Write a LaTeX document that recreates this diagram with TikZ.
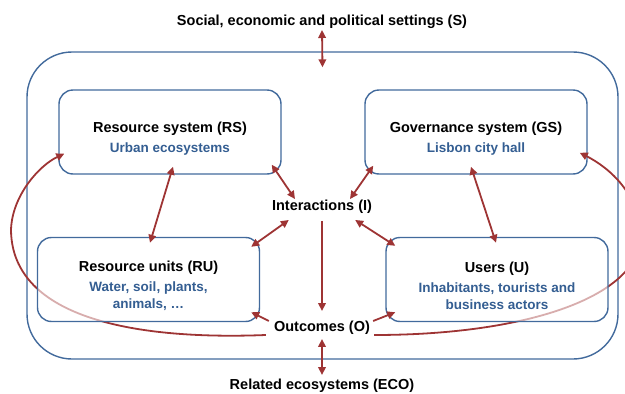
\documentclass[tikz,border=0pt]{standalone}
\usepackage{fontspec}
\setmainfont{Liberation Sans}
\usetikzlibrary{arrows.meta}
\definecolor{sesblue}{RGB}{66,106,156}
\definecolor{sestext}{RGB}{52,94,146}
\definecolor{sesred}{RGB}{158,52,52}

\newcommand{\boxtitle}[1]{{\fontsize{14.5}{17}\selectfont\color{black}\rule{0pt}{24pt}#1}}

\begin{document}
\begin{tikzpicture}[x=1pt,y=-1pt,
  sysbox/.style={draw=sesblue,line width=1.4pt,rounded corners=14pt,minimum width=222pt,minimum height=84pt,
    align=center,inner sep=2pt,text=sestext,font=\fontsize{13.5}{17}\selectfont\bfseries},
  plain/.style={inner sep=1pt,font=\fontsize{14.5}{17}\selectfont\bfseries},
  oneway/.style={draw=sesred,line width=1.8pt,-{Triangle[length=8pt,width=7.5pt]}},
  twoway/.style={oneway,{Triangle[length=8pt,width=7.5pt]}-{Triangle[length=8pt,width=7.5pt]}}]
  \useasboundingbox (0,0) rectangle (625,394);

  \node[draw=sesblue,line width=1.4pt,rounded corners=45pt,minimum width=591pt,minimum height=307pt] (SES) at (322.5,205.5) {};

  \node[plain] (S) at (322,22) {Social, economic and political settings (S)};
  \node[plain] (I) at (322,207) {Interactions (I)};
  \node[plain] (O) at (322,328) {Outcomes (O)};
  \node[plain] (ECO) at (322,386) {Related ecosystems (ECO)};

  \node[sysbox] (RS) at (170,132) {\boxtitle{Resource system (RS)}\\[3pt] Urban ecosystems};
  \node[sysbox] (GS) at (476,132) {\boxtitle{Governance system (GS)}\\[3pt] Lisbon city hall};

  % feedback loops, under the lower boxes
  \draw[oneway] ([xshift=-7pt,yshift=-7pt]O.west) .. controls (140,340) and (12,320) .. (11,230)
    .. controls (12,195) and (40,165) .. ([xshift=6pt,yshift=21pt]RS.south west);
  \draw[oneway] ([xshift=3pt,yshift=-7pt]O.east) .. controls (530,335) and (642,295) .. (640,235)
    .. controls (640,195) and (610,168) .. ([xshift=-8pt,yshift=22pt]GS.south east);

  \node[sysbox,fill=white,fill opacity=0.6,text opacity=1] (RU) at (148.5,279.5)
    {\boxtitle{Resource units (RU)}\\[3pt] Water, soil, plants,\\ animals, …};
  \node[sysbox,fill=white,fill opacity=0.6,text opacity=1] (U) at (497,279.5)
    {\boxtitle{Users (U)}\\[3pt] Inhabitants, tourists and\\ business actors};

  \draw[twoway] (S.south) -- ([yshift=-16pt]SES.north);
  \draw[twoway] ([xshift=3pt,yshift=8pt]RS.south) -- ([xshift=1.5pt,yshift=-6pt]RU.north);
  \draw[twoway] ([xshift=-5pt,yshift=8pt]GS.south) -- ([xshift=-1pt,yshift=-6pt]U.north);
  \draw[twoway] ([xshift=-10pt,yshift=10pt]RS.south east) -- ([xshift=-27pt]I.north);
  \draw[twoway] ([xshift=9pt,yshift=9pt]GS.south west) -- ([xshift=28pt]I.north);
  \draw[twoway] ([xshift=-9pt,yshift=-10pt]RU.north east) -- ([xshift=18pt,yshift=-5pt]I.south west);
  \draw[twoway] ([xshift=-18pt,yshift=-5pt]I.south east) -- ([xshift=10pt,yshift=-9pt]U.north west);
  \draw[oneway] ([yshift=-6pt]I.south) -- ([yshift=9pt]O.north);
  \draw[oneway] ([xshift=-4pt,yshift=7pt]O.west) -- ([xshift=-9pt,yshift=10pt]RU.south east);
  \draw[oneway] ([xshift=2pt,yshift=7pt]O.east) -- ([xshift=10pt,yshift=10pt]U.south west);
  \draw[twoway] ([yshift=-3pt]O.south) -- ([yshift=3pt]ECO.north);
\end{tikzpicture}
\end{document}
